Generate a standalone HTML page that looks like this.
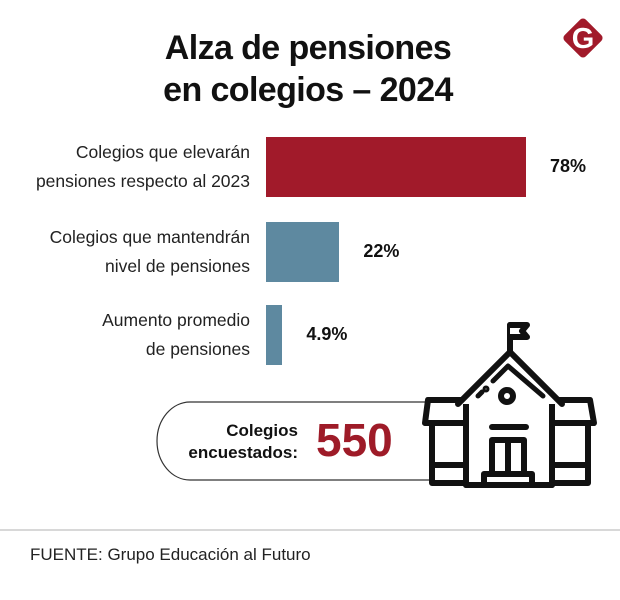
<!DOCTYPE html>
<html><head><meta charset="utf-8"><style>
body{margin:0;background:#fff;font-family:"Liberation Sans",sans-serif;}
#root{position:relative;width:620px;height:600px;overflow:hidden;background:#fff}
.t{position:absolute;color:#111}
.lbl{position:absolute;right:370px;text-align:right;font-size:17.5px;line-height:29px;color:#222}
.val{position:absolute;font-weight:bold;font-size:18px;color:#111}
</style></head><body>
<div id="root">
<div class="t" style="left:0;width:616px;top:27px;text-align:center;font-weight:bold;font-size:34px;line-height:42px;letter-spacing:-0.6px">Alza de pensiones<br>en colegios – 2024</div>
<svg style="position:absolute;left:560px;top:15px" width="46" height="46" viewBox="0 0 46 46">
<rect x="8" y="8" width="30" height="30" rx="4" fill="#a11a2a" transform="rotate(45 23 23)"/>
<text x="23" y="33" text-anchor="middle" font-family="Liberation Sans" font-weight="bold" font-size="29" fill="#fff">G</text></svg>
<div id="bars"></div>
<svg style="position:absolute;left:0;top:0" width="620" height="600">
<path d="M445 402 H190 A33 39 0 0 0 157 441 A33 39 0 0 0 190 480 H445" fill="none" stroke="#333" stroke-width="1.2"/>
<line x1="0" y1="530" x2="620" y2="530" stroke="#ccc" stroke-width="1.5"/>
<g fill="#fff" stroke="#111" stroke-width="6" stroke-linejoin="round" stroke-linecap="round">
<line x1="510" y1="325" x2="510" y2="352"/>
<path d="M510 325 H527 L522 331 L527 337 H510" fill="#fff"/>
<path d="M466 400 H428 L425 423 H468"/>
<path d="M554 400 H590 L594 423 H552"/>
<rect x="432" y="423" width="36" height="60"/>
<rect x="552" y="423" width="36" height="60"/>
<line x1="432" y1="465" x2="468" y2="465"/>
<line x1="552" y1="465" x2="588" y2="465"/>
<path d="M466 404 L510 360 L552 404 V485 H466 Z" stroke="none"/>
<line x1="466" y1="404" x2="466" y2="485"/><line x1="552" y1="404" x2="552" y2="485"/><line x1="466" y1="485" x2="552" y2="485"/>
<path d="M458 404 L510 352 L562 404"/>
<path d="M478 396 L482 392" stroke-width="5"/><path d="M493 381 L508 366 L543 396" stroke-width="5"/>
<circle cx="486" cy="389" r="1.5" stroke-width="4"/>
<circle cx="507" cy="396" r="6"/>
<line x1="492" y1="427" x2="526" y2="427"/>
<rect x="492" y="440" width="32" height="34"/>
<line x1="508" y1="440" x2="508" y2="474"/>
<rect x="484" y="474" width="48" height="11"/>
</g></svg>
<div class="t" style="left:180px;top:420px;width:118px;text-align:right;font-weight:bold;font-size:17px;line-height:22px">Colegios<br>encuestados:</div>
<div class="t" style="left:316px;top:412px;font-weight:bold;font-size:46px;color:#9e1b28;line-height:56px">550</div>
<div class="t" style="left:30px;top:545px;font-size:17px;color:#222">FUENTE: Grupo Educación al Futuro</div>
</div>
<script>
const categories=["Colegios que elevarán<br>pensiones respecto al 2023","Colegios que mantendrán<br>nivel de pensiones","Aumento promedio<br>de pensiones"];
const values=[78,22,4.9];
const valueLabels=["78%","22%","4.9%"];
const colors=["#a11a2a","#5e89a0","#5e89a0"];
const x0=266,pxPer=260/78,tops=[137,222,305],h=60;
const root=document.getElementById('bars');
values.forEach((v,i)=>{
 const w=v*pxPer;
 const b=document.createElement('div');
 
 
 b.style.cssText=`position:absolute;left:${x0}px;top:${tops[i]}px;width:${w}px;height:${h}px;background:${colors[i]}`;
 root.appendChild(b);
 const l=document.createElement('div');
 
 
 l.className='lbl';l.innerHTML=categories[i];
 l.style.top=(tops[i]+1)+'px';
 root.appendChild(l);
 const t=document.createElement('div');
 
 
 t.className='val';t.textContent=valueLabels[i];
 t.style.left=(x0+w+24)+'px';t.style.top=(tops[i]+h/2-11)+'px';
 root.appendChild(t);
});
</script>
</body></html>
